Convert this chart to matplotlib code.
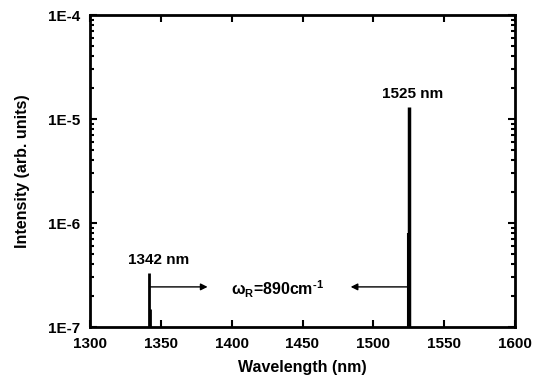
import numpy as np
import matplotlib
matplotlib.use("Agg")
from matplotlib import pyplot as plt, ticker

plt.rcParams['font.family'] = ['Liberation Sans', 'DejaVu Sans']
plt.rcParams['font.weight'] = 'bold'
plt.rcParams['mathtext.fontset'] = 'custom'
plt.rcParams['mathtext.rm'] = 'Liberation Sans:bold'
plt.rcParams['mathtext.it'] = 'Liberation Sans:bold'
plt.rcParams['mathtext.bf'] = 'Liberation Sans:bold'

# spectral lines: position (nm) and peak intensity
line_nm = [1342.0, 1342.6, 1524.6, 1525.0]
line_int = [3.3e-7, 1.5e-7, 8.0e-7, 1.3e-5]
line_w = [2.0, 2.0, 1.5, 2.5]
baseline = 1e-7

peak_labels = ['1342 nm', '1525 nm']
peak_label_pos = [(1348.5, 4.0e-7), (1528.0, 1.6e-5)]

arrow_y = 2.43e-7
arrow_from = [1342.0, 1525.0]
arrow_to = [1383.0, 1484.0]

fig = plt.figure(figsize=(5.33, 3.81), dpi=100)
ax = fig.add_axes([90/533, 54/381, 425/533, 312/381])

for x, y, w in zip(line_nm, line_int, line_w):
    ax.vlines(x, baseline, y, colors='black', linewidth=w)

for (x0, x1) in zip(arrow_from, arrow_to):
    ax.annotate('', xy=(x1, arrow_y), xytext=(x0, arrow_y),
                arrowprops=dict(arrowstyle='-|>', color='black', lw=1.0,
                                mutation_scale=10, shrinkA=0, shrinkB=0))

for lab, (x, y) in zip(peak_labels, peak_label_pos):
    ax.text(x, y, lab, ha='center', va='baseline', fontsize=11, fontweight='bold')

ax.text(1432, 2.3e-7, r'$\omega_R$=890cm$^{\text{-1}}$', ha='center', va='center',
        fontsize=11.5, fontweight='bold')

ax.set_yscale('log')
ax.set_xlim(1300, 1600)
ax.set_ylim(1e-7, 1e-4)
ax.xaxis.set_major_locator(ticker.MultipleLocator(50))
ax.xaxis.set_minor_locator(ticker.NullLocator())
ax.yaxis.set_major_formatter(ticker.FuncFormatter(lambda v, p: '1E%d' % round(np.log10(v))))
ax.yaxis.set_minor_formatter(ticker.NullFormatter())

ax.tick_params(which='both', direction='in', top=True, right=True, width=1.5)
ax.tick_params(which='major', length=5, labelsize=11, pad=7)
ax.tick_params(which='minor', length=3)
for s in ax.spines.values():
    s.set_linewidth(2)
for t in ax.get_xticklabels() + ax.get_yticklabels():
    t.set_fontweight('bold')

ax.set_xlabel('Wavelength (nm)', fontsize=11.5, fontweight='bold')
ax.set_ylabel('Intensity (arb. units)', fontsize=11.5, fontweight='bold')
ax.xaxis.set_label_coords(0.5, -0.105)
ax.yaxis.set_label_coords(-0.141, 0.5)

fig.savefig('out.png', dpi=100)
